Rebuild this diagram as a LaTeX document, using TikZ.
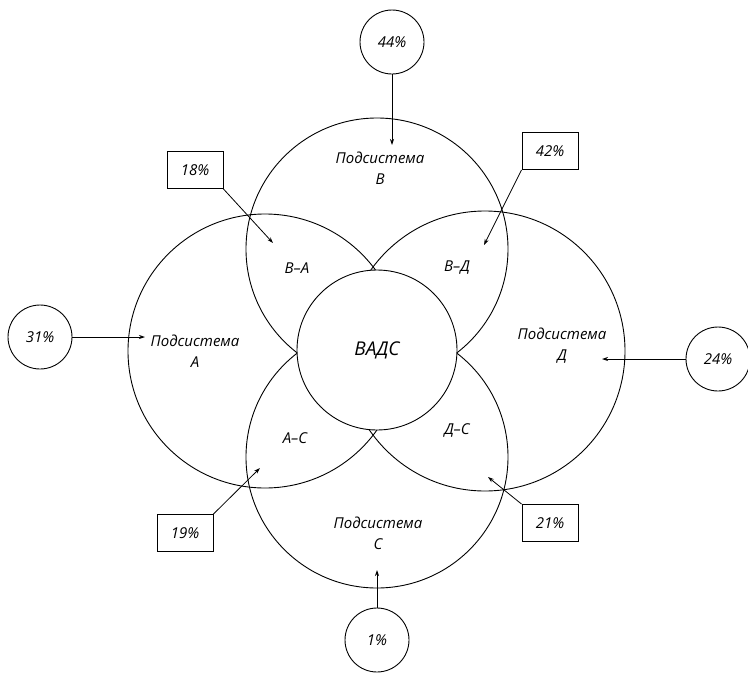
\documentclass[tikz,border=0pt]{standalone}
\usepackage{fontspec}
\setmainfont{Open Sans}
\usetikzlibrary{arrows.meta}
\begin{document}
\begin{tikzpicture}[x=1pt,y=-1pt,line width=0.9pt,
  sub/.style={draw, circle, inner sep=0pt},
  lbl/.style={align=center, inner sep=0pt, font=\fontsize{15}{21}\selectfont\itshape},
  pct/.style={draw, circle, minimum size=64pt, inner sep=0pt, font=\fontsize{15}{17}\selectfont\itshape},
  pbox/.style={draw, rectangle, minimum width=56pt, minimum height=37pt, inner sep=0pt, font=\fontsize{15}{17}\selectfont\itshape},
  arr/.style={-{Stealth[length=6pt,width=4pt]}, line width=0.8pt}]
\useasboundingbox (0,0) rectangle (748,673);

% four subsystem circles
\node[sub, minimum size=262pt] (B) at (377,249) {};
\node[sub, minimum size=274pt] (A) at (265,351) {};
\node[sub, minimum size=280pt] (D) at (485,351) {};
\node[sub, minimum size=262pt] (C) at (377,457) {};

% central circle covers the overlaps
\node[sub, fill=white, minimum size=160pt, font=\fontsize{19}{22}\selectfont\itshape] (V) at (377,350) {ВАДС};

% subsystem names
\node[lbl] (Bt) at (380,168) {Подсистема\\В};
\node[lbl] (At) at (195,351) {Подсистема\\А};
\node[lbl] (Dt) at (562,346) {Подсистема\\Д};
\node[lbl] (Ct) at (378,533) {Подсистема\\С};

% pairwise overlaps
\node[lbl] (BA) at (297,268) {В--А};
\node[lbl] (BD) at (457,268) {В--Д};
\node[lbl] (AC) at (295,438) {А--С};
\node[lbl] (DC) at (457,430) {Д--С};

% shares
\node[pct] (p44) at (392,42) {44\%};
\node[pct] (p31) at (40,337) {31\%};
\node[pct] (p24) at (718,359) {24\%};
\node[pct] (p1) at (377,640) {1\%};
\node[pbox] (b18) at (195,170) {18\%};
\node[pbox] (b42) at (550,151) {42\%};
\node[pbox] (b19) at (185,533) {19\%};
\node[pbox] (b21) at (550,523) {21\%};

% arrow targets
\coordinate (tB) at (392,145);
\coordinate (tA) at (145,337);
\coordinate (tD) at (602,359);
\coordinate (tC) at (377,570);
\coordinate (tBA) at (273,243);
\coordinate (tBD) at (484,245);
\coordinate (tAC) at (260,468);
\coordinate (tDC) at (488,477);

\draw[arr] (p44.south) -- (tB);
\draw[arr] (p31.east) -- (tA);
\draw[arr] (p24.west) -- (tD);
\draw[arr] (p1.north) -- (tC);
\draw[arr] (b18.south east) -- (tBA);
\draw[arr] (b42.south west) -- (tBD);
\draw[arr] (b19.north east) -- (tAC);
\draw[arr] (b21.north west) -- (tDC);
\end{tikzpicture}
\end{document}
